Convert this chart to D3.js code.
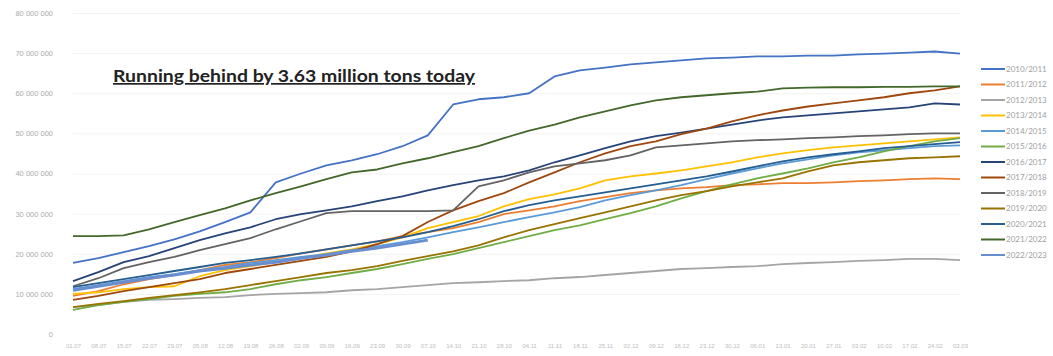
<!DOCTYPE html>
<html lang="en">
<head>
	<meta charset="UTF-8">
	<title>Cumulative tons by season</title>
	<script src="https://d3js.org/d3.v7.min.js"></script>
	<style>
		body { margin: 0; background: #fff; }
		svg { display: block; font-family: "Lato", "Open Sans", sans-serif; }
		.grid line { stroke: #f2f2f2; }
		.grid path { display: none; }
	</style>
</head>
<body>
<div id="chart"></div>
<script>
	// weeks of the season (x categories)
	var weeks = ["01.07","08.07","15.07","22.07","29.07","05.08","12.08","19.08","26.08","02.09",
		"09.09","16.09","23.09","30.09","07.10","14.10","21.10","28.10","04.11","11.11",
		"18.11","25.11","02.12","09.12","16.12","23.12","30.12","06.01","13.01","20.01",
		"27.01","03.02","10.02","17.02","24.02","03.03"];

	var seasons = ["2010/2011","2011/2012","2012/2013","2013/2014","2014/2015","2015/2016","2016/2017",
		"2017/2018","2018/2019","2019/2020","2020/2021","2021/2022","2022/2023"];

	var colors = ["#4472c4","#ed7d31","#a5a5a5","#ffc000","#5b9bd5","#70ad47","#264478",
		"#9e480e","#636363","#997300","#255e91","#43682b","#698ed0"];

	var yTicks = [0, 10e6, 20e6, 30e6, 40e6, 50e6, 60e6, 70e6, 80e6];

	// cumulative values, million tons
	var s2010 = [17.7,18.9,20.4,21.9,23.6,25.6,27.9,30.3,37.8,40.0,42.0,43.3,44.8,46.8,49.5,57.2,58.5,59.0,60.0,64.2,65.7,66.4,67.2,67.7,68.2,68.7,68.9,69.2,69.2,69.4,69.4,69.7,69.9,70.1,70.4,69.9];
	var s2011 = [9.5,10.7,12.4,13.7,14.7,15.9,17.2,17.9,18.9,20.1,21.1,22.1,23.1,24.4,25.4,26.4,27.9,29.9,30.8,31.8,33.1,34.1,35.1,35.8,36.3,36.6,37.1,37.3,37.6,37.6,37.8,38.1,38.3,38.6,38.8,38.6];
	var s2012 = [6.7,7.2,8.0,8.5,8.7,9.0,9.2,9.7,10.0,10.2,10.4,10.9,11.2,11.7,12.2,12.7,12.9,13.2,13.4,13.9,14.2,14.7,15.2,15.7,16.2,16.4,16.7,16.9,17.4,17.7,17.9,18.2,18.4,18.7,18.7,18.4];
	var s2013 = [10.0,10.4,11.2,11.7,11.9,14.4,15.9,16.9,17.9,18.9,20.1,21.1,22.4,24.1,26.4,27.9,29.4,31.8,33.6,34.8,36.3,38.3,39.3,40.0,40.8,41.8,42.8,44.0,45.0,45.8,46.5,47.0,47.5,48.0,48.5,49.0];
	var s2014 = [11.2,12.2,13.2,14.2,14.9,15.9,16.7,17.7,18.4,19.2,19.9,20.9,21.9,22.9,24.1,25.4,26.6,27.9,29.1,30.3,31.6,33.3,34.6,35.8,37.1,38.6,40.0,41.3,42.5,43.5,44.5,45.3,45.8,46.3,46.8,47.0];
	var s2015 = [6.0,7.2,8.0,8.7,9.5,10.0,10.4,11.2,12.4,13.4,14.2,15.2,16.2,17.4,18.7,19.9,21.4,22.9,24.4,25.9,27.1,28.6,30.1,31.8,33.8,35.6,37.3,38.8,40.0,41.3,42.8,44.0,45.5,46.8,48.0,48.8];
	var s2016 = [13.2,15.4,17.9,19.4,21.4,23.4,25.1,26.6,28.6,29.9,30.8,31.8,33.1,34.3,35.8,37.1,38.3,39.3,40.8,42.8,44.5,46.3,48.0,49.3,50.2,51.2,52.2,53.2,54.0,54.5,55.0,55.5,56.0,56.5,57.5,57.2];
	var s2017 = [8.5,9.5,10.7,11.7,12.7,13.7,15.2,16.2,17.2,18.2,19.2,20.6,22.4,24.4,27.9,30.8,33.1,35.1,37.8,40.3,42.8,45.0,46.8,48.0,49.8,51.2,53.0,54.5,55.7,56.7,57.5,58.2,59.0,60.0,60.7,61.7];
	var s2018 = [11.9,13.9,16.4,17.9,19.2,20.9,22.4,23.9,26.1,28.1,30.1,30.6,30.6,30.6,30.6,30.8,36.8,38.3,40.3,41.8,42.5,43.3,44.5,46.5,47.0,47.5,48.0,48.3,48.5,48.8,49.0,49.3,49.5,49.8,50.0,50.0];
	var s2019 = [6.7,7.5,8.2,9.0,9.7,10.4,11.2,12.2,13.2,14.2,15.2,15.9,16.9,18.2,19.4,20.6,22.1,24.1,25.9,27.4,28.9,30.3,31.8,33.3,34.6,35.6,36.8,37.8,38.8,40.5,42.0,42.8,43.3,43.8,44.0,44.3];
	var s2020 = [11.7,12.7,13.7,14.7,15.7,16.7,17.7,18.4,19.2,20.1,21.1,22.1,23.1,24.1,25.4,26.9,28.6,30.6,32.1,33.3,34.3,35.3,36.3,37.3,38.3,39.3,40.5,41.8,43.0,44.0,44.8,45.5,46.3,46.8,47.3,47.8];
	var s2021 = [24.4,24.4,24.6,26.1,27.9,29.6,31.3,33.3,35.1,36.8,38.6,40.3,41.0,42.5,43.8,45.3,46.8,48.8,50.7,52.2,54.0,55.5,57.0,58.2,59.0,59.5,60.0,60.4,61.2,61.4,61.5,61.5,61.6,61.6,61.7,61.7];
	var s2022 = [10.9,11.9,12.9,13.9,14.7,15.7,16.4,17.2,17.9,18.9,19.7,20.6,21.4,22.4,23.4];

	var series = [s2010,s2011,s2012,s2013,s2014,s2015,s2016,s2017,s2018,s2019,s2020,s2021,s2022];

	var W = 1053, H = 356;
	var svg = d3.select("#chart").append("svg")
		.attr("width", W)
		.attr("height", H);

	var x = d3.scalePoint()
		.domain(weeks)
		.range([73, 960]);
	var y = d3.scaleLinear()
		.domain([0, 80e6])
		.range([334, 13]);

	// faint gridlines
	svg.append("g")
		.attr("class", "grid")
		.attr("transform", "translate(73,0)")
		.call(d3.axisLeft(y).tickValues(yTicks.slice(1)).tickSize(-887).tickFormat(""));

	// y axis labels
	var fmt = function (v) { return d3.format(",")(v).replace(/,/g, " "); };
	var yAxis = svg.append("g")
		.attr("transform", "translate(56,0)")
		.call(d3.axisLeft(y).tickValues(yTicks).tickSize(0).tickFormat(fmt));
	yAxis.select(".domain").remove();
	yAxis.selectAll("text")
		.attr("fill", "#ababab")
		.style("font-size", "7.5px");

	// x axis labels
	var xAxis = svg.append("g")
		.attr("transform", "translate(0,341)")
		.call(d3.axisBottom(x).tickSize(0));
	xAxis.select(".domain").remove();
	xAxis.selectAll("text")
		.attr("fill", "#bdbdbd")
		.style("font-size", "6px");

	var line = d3.line()
		.defined(function (d) { return d != null; })
		.x(function (d, i) { return x(weeks[i]); })
		.y(function (d) { return y(d * 1e6); });

	svg.append("g").selectAll("path")
		.data(series)
		.enter()
		.append("path")
		.attr("fill", "none")
		.attr("stroke", function (d, i) { return colors[i]; })
		.attr("stroke-width", function (d, i) { return i === 12 ? 3 : 1.8; })
		.attr("stroke-linejoin", "round")
		.attr("d", line);

	// legend
	var lg = svg.append("g").selectAll("g")
		.data(seasons)
		.enter()
		.append("g")
		.attr("transform", function (d, i) { return "translate(981," + (69 + i * 15.5) + ")"; });
	lg.append("line")
		.attr("x1", 0).attr("x2", 24)
		.attr("stroke", function (d, i) { return colors[i]; })
		.attr("stroke-width", 2);
	lg.append("text")
		.attr("x", 25)
		.attr("dy", "0.35em")
		.attr("fill", "#a0a0a0")
		.style("font-size", "8px")
		.text(function (d) { return d; });

	// annotation
	svg.append("text")
		.attr("x", 113)
		.attr("y", 82)
		.attr("textLength", 362)
		.attr("lengthAdjust", "spacingAndGlyphs")
		.attr("fill", "#222")
		.style("font-size", "17px")
		.style("font-weight", "bold")
		.style("text-decoration", "underline")
		.text("Running behind by 3.63 million tons today");
</script>
</body>
</html>
